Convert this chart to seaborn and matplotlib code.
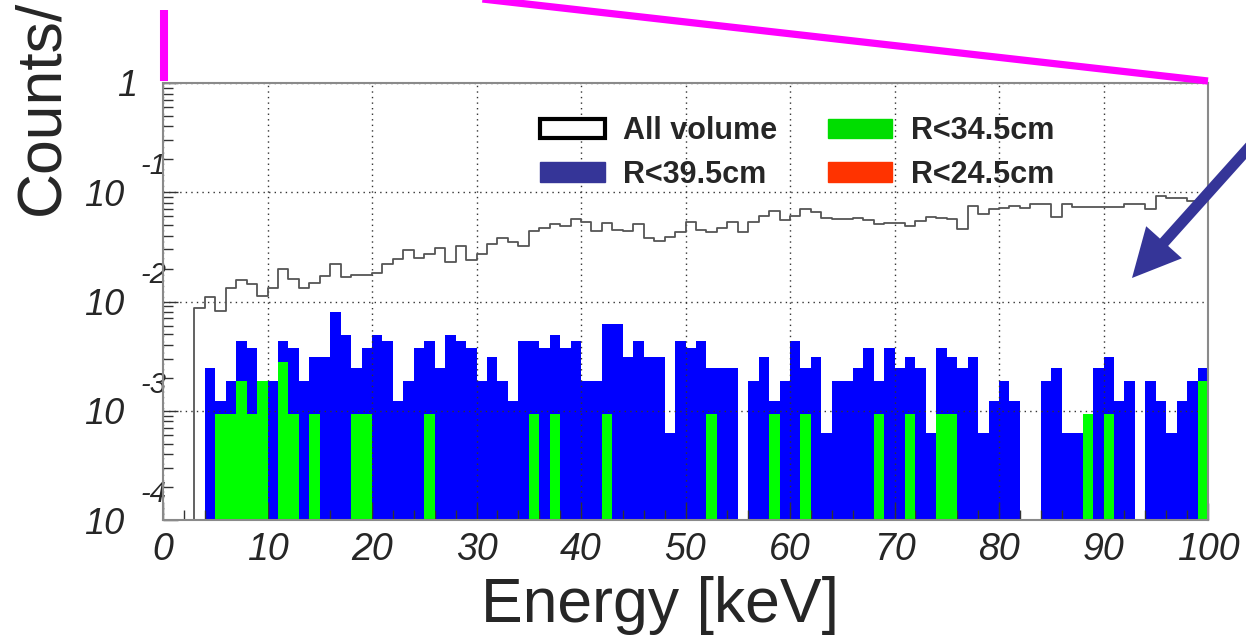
import numpy as np
import pandas as pd
import matplotlib
matplotlib.use("Agg")
import matplotlib.pyplot as plt
import seaborn as sns
from matplotlib.patches import Patch, FancyArrow
from matplotlib.lines import Line2D
from matplotlib.ticker import MultipleLocator, LogLocator, NullFormatter

# 1 keV binning over 0-100 keV
bin_edges = np.arange(0, 101)
bin_centers = bin_edges[:-1] + 0.5

xtick_values = [0, 10, 20, 30, 40, 50, 60, 70, 80, 90, 100]
ytick_exponents = [0, -1, -2, -3, -4]
legend_labels = ["All volume", "R<39.5cm", "R<34.5cm", "R<24.5cm"]

# Whole-volume spectrum (counts/keV/kg/day per bin)
all_volume = [
    0, 0, 0, 8.7e-3, 1.11e-2, 8.2e-3, 1.34e-2, 1.58e-2, 1.44e-2, 1.13e-2,
    1.34e-2, 1.99e-2, 1.62e-2, 1.34e-2, 1.47e-2, 1.72e-2, 2.20e-2, 1.69e-2, 1.73e-2, 1.75e-2,
    1.82e-2, 2.20e-2, 2.45e-2, 2.97e-2, 2.49e-2, 2.71e-2, 3.11e-2, 2.29e-2, 3.25e-2, 2.40e-2,
    2.73e-2, 3.37e-2, 3.79e-2, 3.53e-2, 3.23e-2, 4.45e-2, 4.68e-2, 5.13e-2, 4.95e-2, 5.66e-2,
    5.31e-2, 4.42e-2, 5.21e-2, 4.52e-2, 4.45e-2, 5.10e-2, 3.79e-2, 3.58e-2, 3.93e-2, 4.31e-2,
    5.38e-2, 4.52e-2, 4.36e-2, 4.74e-2, 5.31e-2, 4.31e-2, 5.31e-2, 6.07e-2, 6.79e-2, 5.58e-2,
    6.11e-2, 6.99e-2, 6.65e-2, 5.86e-2, 5.66e-2, 5.70e-2, 5.78e-2, 5.58e-2, 5.10e-2, 5.21e-2,
    5.21e-2, 4.92e-2, 5.46e-2, 5.98e-2, 5.78e-2, 5.70e-2, 4.62e-2, 7.49e-2, 6.33e-2, 6.99e-2,
    7.14e-2, 7.49e-2, 7.14e-2, 7.77e-2, 7.77e-2, 5.91e-2, 7.77e-2, 7.38e-2, 7.38e-2, 7.29e-2,
    7.29e-2, 7.38e-2, 7.82e-2, 7.82e-2, 7.04e-2, 9.25e-2, 8.93e-2, 8.81e-2, 8.38e-2, 8.69e-2,
]

# Fiducial-volume cuts: event counts per bin and the per-event weight
counts_r395 = [
    0, 0, 0, 0, 4, 2, 3, 7, 6, 3,
    3, 7, 6, 3, 5, 5, 13, 8, 4, 6,
    8, 7, 2, 3, 6, 7, 4, 8, 7, 6,
    3, 5, 3, 2, 7, 7, 6, 8, 6, 7,
    3, 3, 10, 10, 5, 7, 5, 5, 1, 7,
    6, 7, 4, 4, 4, 0, 3, 5, 2, 3,
    7, 4, 5, 1, 3, 3, 4, 6, 3, 6,
    4, 5, 4, 1, 6, 5, 4, 5, 1, 2,
    3, 2, 0, 0, 3, 4, 1, 1, 1, 4,
    5, 2, 3, 0, 3, 2, 1, 2, 3, 4,
]
counts_r345 = [
    0, 0, 0, 0, 0, 1, 1, 2, 1, 2,
    0, 3, 1, 0, 1, 0, 0, 0, 1, 1,
    0, 0, 0, 0, 0, 1, 0, 0, 0, 0,
    0, 0, 0, 0, 0, 1, 0, 1, 0, 0,
    0, 0, 1, 0, 0, 0, 0, 0, 0, 0,
    0, 0, 1, 0, 0, 0, 0, 0, 1, 0,
    0, 1, 0, 0, 0, 0, 0, 0, 1, 0,
    0, 1, 0, 0, 1, 1, 0, 0, 0, 0,
    0, 0, 0, 0, 0, 0, 0, 0, 1, 0,
    1, 0, 0, 0, 0, 0, 0, 0, 0, 2,
]
weight_r395 = 6.2e-4
weight_r345 = 9.3e-4

spectra = pd.DataFrame({
    "energy": bin_centers,
    "all_volume": all_volume,
    "r395": np.array(counts_r395) * weight_r395,
    "r345": np.array(counts_r345) * weight_r345,
})

sns.set_style("white")
plt.rcParams["font.family"] = ["Liberation Sans", "DejaVu Sans"]

W, H = 1246, 640
fig = plt.figure(figsize=(W / 100, H / 100), dpi=100)
ax = fig.add_axes([163 / W, 1 - 520 / H, 1045 / W, 437 / H])

sns.histplot(data=spectra, x="energy", weights="r395", bins=list(bin_edges), element="step",
             fill=True, color="#0000ff", alpha=1, linewidth=0, ax=ax, zorder=2)
sns.histplot(data=spectra, x="energy", weights="r345", bins=list(bin_edges), element="step",
             fill=True, color="#00ff00", alpha=1, linewidth=0, ax=ax, zorder=3)
sns.histplot(data=spectra, x="energy", weights="all_volume", bins=list(bin_edges), element="step",
             fill=False, color="#555555", linewidth=1.3, ax=ax, zorder=4)

ax.set_yscale("log")
ax.set_xlim(0, 100)
ax.set_ylim(1e-4, 1)
ax.set_ylabel("")

# frame and grid
for side in ["left", "bottom", "top", "right"]:
    ax.spines[side].set_color("#8a8a8a")
    ax.spines[side].set_linewidth(1.5)
    ax.spines[side].set_zorder(6)
ax.set_axisbelow(False)
ax.grid(True, which="major", linestyle=(0, (1, 3)), color="#333333", linewidth=1.0, zorder=5)

# ticks
ax.set_xticks(xtick_values)
ax.set_xticklabels([str(v) for v in xtick_values], fontsize=27, style="italic")
ax.xaxis.set_minor_locator(MultipleLocator(2))
ax.set_yticks([10.0 ** e for e in ytick_exponents])
ax.set_yticklabels([])
ax.yaxis.set_minor_locator(LogLocator(base=10, subs=np.arange(2, 10)))
ax.yaxis.set_minor_formatter(NullFormatter())
ax.tick_params(which="both", direction="in", top=False, right=False, left=True, bottom=True,
               color="#333333", width=1)
ax.tick_params(axis="x", which="major", length=12, pad=9)
ax.tick_params(axis="x", which="minor", length=7)
ax.tick_params(axis="y", which="major", length=11)
ax.tick_params(axis="y", which="minor", length=7)

# ROOT-style decade labels: mantissa with raised exponent
ytrans = ax.get_yaxis_transform()
for e in ytick_exponents:
    if e == 0:
        ax.text(-0.025, 1.0, "1", transform=ytrans, ha="right", va="center_baseline",
                fontsize=26, style="italic")
    else:
        ax.text(-0.037, 10.0 ** e, "10", transform=ytrans, ha="right", va="center_baseline",
                fontsize=26, style="italic")
        ax.text(-0.022, 10.0 ** e * 1.85, str(e), transform=ytrans, ha="left", va="center_baseline",
                fontsize=21, style="italic")

# axis titles
ax.set_xlabel("Energy [keV]", fontsize=45)
ax.xaxis.set_label_coords((660 - 163) / 1045, -0.128)
fig.text(42 / W, 1 - 215 / H, "Counts/", rotation=90, ha="center", va="bottom", fontsize=45)

# legend
handles = [
    Patch(facecolor="white", edgecolor="black", linewidth=3),
    Patch(facecolor="#353598", edgecolor="#353598"),
    Patch(facecolor="#00dd00", edgecolor="#00dd00"),
    Patch(facecolor="#ff3300", edgecolor="#ff3300"),
]
leg = ax.legend(handles, legend_labels, ncol=2, frameon=False,
                loc="upper left", bbox_to_anchor=(540 / W, 1 - 116 / H),
                bbox_transform=fig.transFigure, borderaxespad=0, borderpad=0,
                prop={"family": "Liberation Sans", "weight": "bold", "size": 22},
                handlelength=2.12, handleheight=0.59, handletextpad=0.6,
                columnspacing=1.65, labelspacing=0.45)
leg.set_zorder(7)

# magenta guide lines and blue arrow, in figure pixels
def px(x, y):
    return x / 100, (H - y) / 100

t = fig.dpi_scale_trans
(x0, y0), (x1, y1) = px(163.5, 10), px(163.5, 81)
fig.add_artist(Line2D([x0, x1], [y0, y1], transform=t, color="#ff00ff", linewidth=5.8,
                      solid_capstyle="butt"))
(x0, y0), (x1, y1) = px(478, -1.5), px(1208, 81)
fig.add_artist(Line2D([x0, x1], [y0, y1], transform=t, color="#ff00ff", linewidth=5.2,
                      solid_capstyle="butt"))

(ax0, ay0), (ax1, ay1) = px(1262, 133), px(1132, 278)
fig.add_artist(FancyArrow(ax0, ay0, ax1 - ax0, ay1 - ay0, width=0.11, head_width=0.48,
                          head_length=0.48, length_includes_head=True, transform=t,
                          color="#353598", linewidth=0))

fig.savefig("out.png", dpi=100)
